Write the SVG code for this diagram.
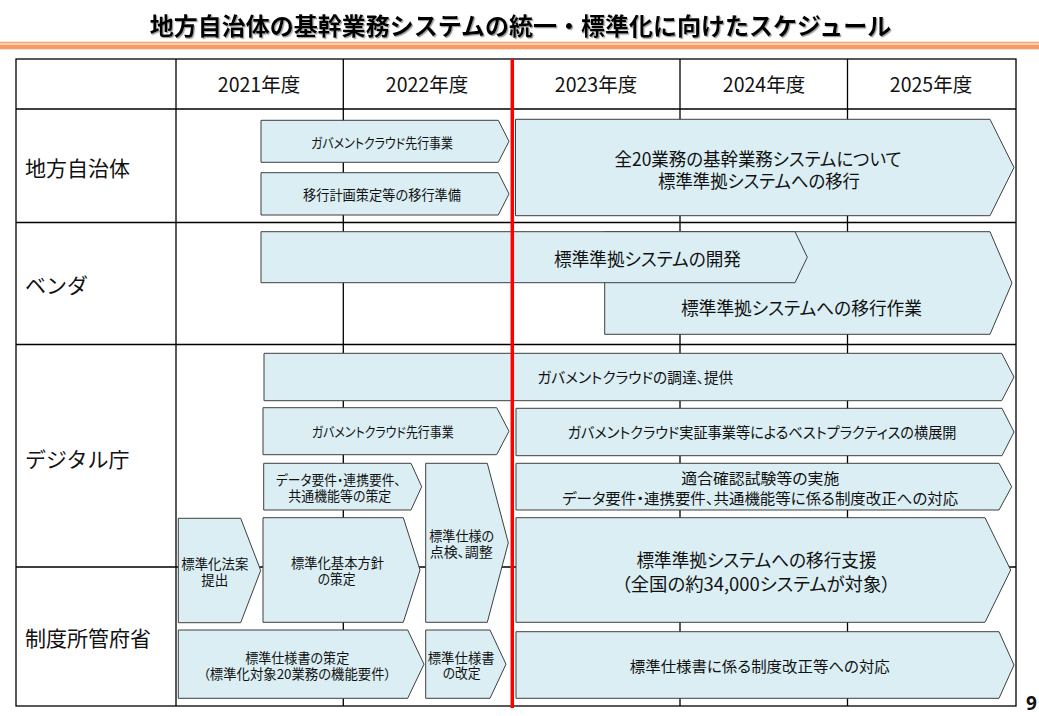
<svg xmlns="http://www.w3.org/2000/svg" width="1039" height="716" viewBox="0 0 1039 716">
<defs>
<style>
.box{fill:#DAEEF3;stroke:#3F3F3F;stroke-width:1}
.grid{stroke:#000;stroke-width:1.3;fill:none}
.t{font-family:"Noto Sans CJK JP","Noto Sans",sans-serif;fill:#111;text-anchor:middle;dominant-baseline:central;font-feature-settings:"palt"}
.sl{font-size:13.5px}
.sr{font-size:15px}
.s18{font-size:18px}
.lab{font-size:21px;text-anchor:start;font-feature-settings:normal}
.yr{font-size:19.5px;font-feature-settings:normal}
</style>
<filter id="sh" x="-5%" y="-30%" width="110%" height="160%">
<feDropShadow dx="1.2" dy="1.2" stdDeviation="0.6" flood-color="#888" flood-opacity="0.8"/>
</filter>
</defs>
<rect x="0" y="0" width="1039" height="716" fill="#fff"/>
<g id="title">
<text x="520.5" y="24.5" class="t" style="font-size:24px;font-weight:bold;font-feature-settings:normal;fill:#000" filter="url(#sh)">地方自治体の基幹業務システムの統一・標準化に向けたスケジュール</text>
<rect x="0" y="41.7" width="1039" height="2" fill="#F8A878"/>
<rect x="0" y="43.7" width="1039" height="1.3" fill="#FCD3BA"/>
<rect x="0" y="45" width="1039" height="4.3" fill="#F79A64"/>
</g>
<g id="table">
<rect class="grid" x="16" y="59" width="1000" height="647"/>
<line class="grid" x1="16" y1="109" x2="1016" y2="109"/>
<line class="grid" x1="16" y1="222.5" x2="1016" y2="222.5"/>
<line class="grid" x1="16" y1="344.5" x2="1016" y2="344.5"/>
<line class="grid" x1="16" y1="567" x2="1016" y2="567"/>
<line class="grid" x1="176" y1="59" x2="176" y2="706"/>
<line class="grid" x1="343.3" y1="59" x2="343.3" y2="706"/>
<line class="grid" x1="512" y1="59" x2="512" y2="706"/>
<line class="grid" x1="680" y1="59" x2="680" y2="706"/>
<line class="grid" x1="847.5" y1="59" x2="847.5" y2="706"/>
<text class="t yr" x="259" y="83">2021年度</text>
<text class="t yr" x="427" y="83">2022年度</text>
<text class="t yr" x="596" y="83">2023年度</text>
<text class="t yr" x="764" y="83">2024年度</text>
<text class="t yr" x="931" y="83">2025年度</text>
<text class="t lab" x="25" y="166.7">地方自治体</text>
<text class="t lab" x="25" y="284.3">ベンダ</text>
<text class="t lab" x="25" y="458.3">デジタル庁</text>
<text class="t lab" x="25" y="637.3">制度所管府省</text>
</g>
<g id="connectors"></g>
<g id="a1"><polygon class="box" points="261,120.3 498.3,120.3 509,141.3 498.3,162.3 261,162.3"/><text class="t sl" x="382" y="142" textLength="142" lengthAdjust="spacingAndGlyphs">ガバメントクラウド先行事業</text></g>
<g id="a2"><polygon class="box" points="261,172.7 498.3,172.7 509,193.9 498.3,215 261,215"/><text class="t sl" x="382" y="194" textLength="158" lengthAdjust="spacingAndGlyphs">移行計画策定等の移行準備</text></g>
<g id="a3"><polygon class="box" points="515.5,119.3 990,119.3 1014,167.5 990,215.7 515.5,215.7"/><text class="t s18"><tspan x="758" y="158.3" textLength="287" lengthAdjust="spacingAndGlyphs">全20業務の基幹業務システムについて</tspan><tspan x="759" y="180" textLength="202" lengthAdjust="spacingAndGlyphs">標準準拠システムへの移行</tspan></text></g>
<g id="b2"><polygon class="box" points="604.7,231.7 990,231.7 1012,283 990,334.3 604.7,334.3"/><text class="t s18" x="801.5" y="307" textLength="241" lengthAdjust="spacingAndGlyphs">標準準拠システムへの移行作業</text></g>
<g id="b1"><polygon class="box" points="261,231.7 795,231.7 807.3,257.2 795,282.7 261,282.7"/><text class="t s18" x="647.5" y="258" textLength="187" lengthAdjust="spacingAndGlyphs">標準準拠システムの開発</text></g>
<g id="d1"><polygon class="box" points="264,353.3 1001.7,353.3 1014,377 1001.7,400.7 264,400.7"/><text class="t sr" x="635.3" y="376.7" textLength="196" lengthAdjust="spacingAndGlyphs">ガバメントクラウドの調達、提供</text></g>
<g id="d2"><polygon class="box" points="263,407.7 496.7,407.7 509,431.2 496.7,454.7 263,454.7"/><text class="t sl" x="382.7" y="431" textLength="142" lengthAdjust="spacingAndGlyphs">ガバメントクラウド先行事業</text></g>
<g id="d3"><polygon class="box" points="516,408.3 1002,408.3 1014,432 1002,455.7 516,455.7"/><text class="t sr" x="762" y="431.7" textLength="389" lengthAdjust="spacingAndGlyphs">ガバメントクラウド実証事業等によるベストプラクティスの横展開</text></g>
<g id="d4"><polygon class="box" points="263.7,463.3 411,463.3 421.7,486.7 411,510 263.7,510"/><text class="t sl"><tspan x="338.3" y="479.3" textLength="125" lengthAdjust="spacingAndGlyphs">データ要件・連携要件、</tspan><tspan x="339.8" y="495" textLength="103" lengthAdjust="spacingAndGlyphs">共通機能等の策定</tspan></text></g>
<g id="d5"><polygon class="box" points="425.7,463.3 487.3,463.3 508.3,542.8 487.3,622.3 425.7,622.3"/><text class="t sl"><tspan x="461.7" y="535" textLength="65" lengthAdjust="spacingAndGlyphs">標準仕様の</tspan><tspan x="461.2" y="551" textLength="63" lengthAdjust="spacingAndGlyphs">点検、調整</tspan></text></g>
<g id="d6"><polygon class="box" points="516,463.3 999,463.3 1011.7,486.7 999,510 516,510"/><text class="t sr"><tspan x="760.3" y="476.7" textLength="158" lengthAdjust="spacingAndGlyphs">適合確認試験等の実施</tspan><tspan x="760.2" y="496.7" textLength="396" lengthAdjust="spacingAndGlyphs">データ要件・連携要件、共通機能等に係る制度改正への対応</tspan></text></g>
<g id="d7"><polygon class="box" points="178.3,518.3 240.7,518.3 260.7,570.5 240.7,622.7 178.3,622.7"/><text class="t sl"><tspan x="214.8" y="562.7" textLength="67" lengthAdjust="spacingAndGlyphs">標準化法案</tspan><tspan x="214.8" y="579.3" textLength="27" lengthAdjust="spacingAndGlyphs">提出</tspan></text></g>
<g id="d8"><polygon class="box" points="263,517.7 403.3,517.7 420,570 403.3,622.3 263,622.3"/><text class="t sl"><tspan x="337.5" y="561.7" textLength="93" lengthAdjust="spacingAndGlyphs">標準化基本方針</tspan><tspan x="336.7" y="578.3" textLength="38" lengthAdjust="spacingAndGlyphs">の策定</tspan></text></g>
<g id="d9"><polygon class="box" points="516,517.7 985,517.7 1010.7,570 985,622.3 516,622.3"/><text class="t s18"><tspan x="756.5" y="559" textLength="240" lengthAdjust="spacingAndGlyphs">標準準拠システムへの移行支援</tspan><tspan x="756" y="582.7" textLength="269" lengthAdjust="spacingAndGlyphs">（全国の約34,000システムが対象）</tspan></text></g>
<g id="s1"><polygon class="box" points="178.3,630 407.7,630 424,664.2 407.7,698.3 178.3,698.3"/><text class="t sl"><tspan x="297.2" y="656.7" textLength="104" lengthAdjust="spacingAndGlyphs">標準仕様書の策定</tspan><tspan x="297.2" y="672.7" textLength="188" lengthAdjust="spacingAndGlyphs">（標準化対象20業務の機能要件）</tspan></text></g>
<g id="s2"><polygon class="box" points="425.7,630 490,630 506,664.2 490,698.3 425.7,698.3"/><text class="t sl"><tspan x="461.2" y="656.7" textLength="67" lengthAdjust="spacingAndGlyphs">標準仕様書</tspan><tspan x="461.6" y="672.3" textLength="38" lengthAdjust="spacingAndGlyphs">の改定</tspan></text></g>
<g id="s3"><polygon class="box" points="516,631.7 999,631.7 1014,665 999,698.3 516,698.3"/><text class="t sr" x="759.8" y="665" textLength="260" lengthAdjust="spacingAndGlyphs">標準仕様書に係る制度改正等への対応</text></g>
<g id="now-line"><line x1="512.3" y1="59" x2="512.3" y2="708" stroke="#FF0000" stroke-width="3.5"/></g>
<g id="page"><text x="1026" y="703" style="font-family:'Noto Sans','DejaVu Sans',sans-serif;font-size:19px;font-weight:bold;dominant-baseline:central;fill:#111">9</text></g>
</svg>
